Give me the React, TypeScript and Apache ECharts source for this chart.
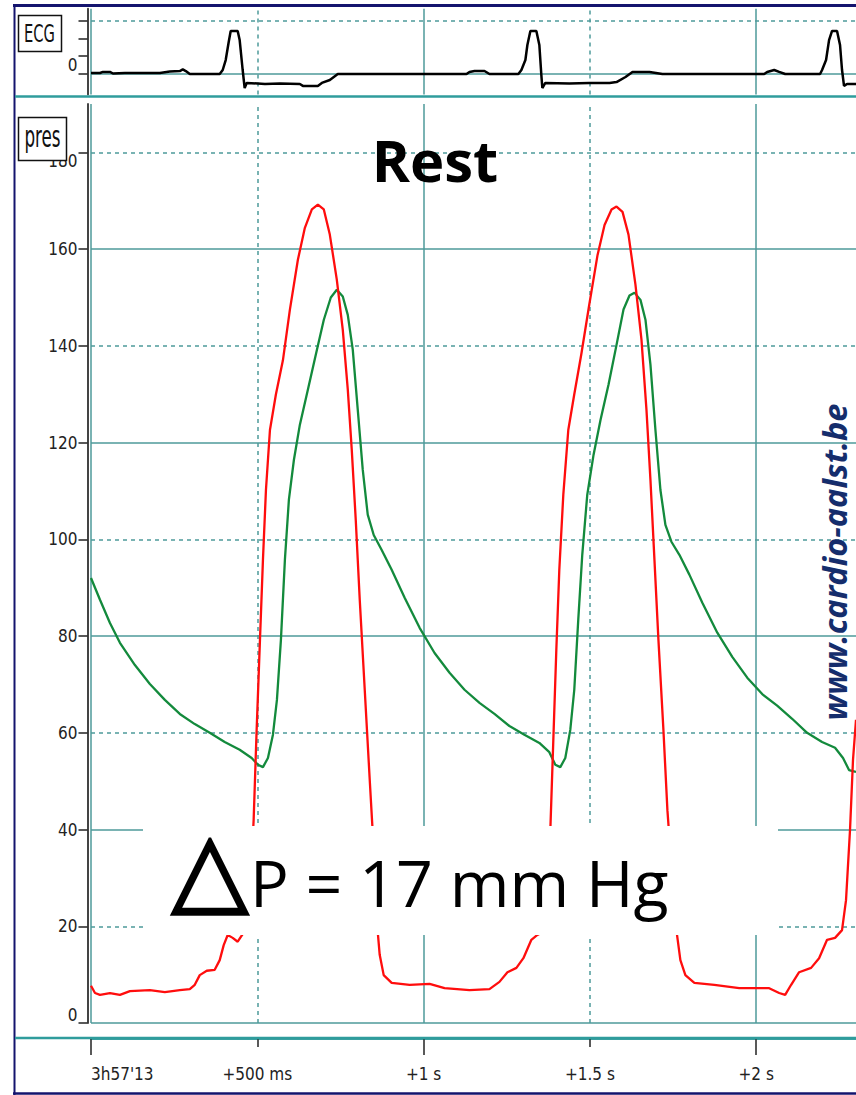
import React, { useEffect, useRef } from "react";
import * as echarts from "echarts";

// ---------- data ----------
// time in seconds from 3h57'13, ECG in arbitrary units, pressure in mm Hg
const ecgTime = [0, 0.027, 0.036, 0.057, 0.066, 0.102, 0.207, 0.237, 0.267, 0.276, 0.285, 0.297, 0.387, 0.396, 0.405, 0.414, 0.42, 0.441, 0.447, 0.456, 0.462, 0.468, 0.523, 0.568, 0.628, 0.637, 0.682, 0.694, 0.718, 0.742, 0.838, 1.048, 1.129, 1.138, 1.153, 1.183, 1.198, 1.285, 1.294, 1.306, 1.312, 1.321, 1.339, 1.348, 1.354, 1.357, 1.366, 1.438, 1.498, 1.559, 1.58, 1.607, 1.628, 1.679, 1.718, 2.024, 2.033, 2.054, 2.069, 2.087, 2.192, 2.198, 2.21, 2.219, 2.228, 2.243, 2.252, 2.258, 2.264, 2.273, 2.3];
const ecgValue = [0.03, 0.03, 0.09, 0.09, 0, 0.03, 0.03, 0.11, 0.14, 0.23, 0.14, -0.03, -0.03, 0.2, 0.77, 1.8, 2.43, 2.43, 1.91, 0.2, -0.83, -0.54, -0.6, -0.57, -0.6, -0.71, -0.71, -0.54, -0.37, -0.03, -0.03, -0.03, -0.03, 0.09, 0.14, 0.14, -0.03, -0.03, 0.2, 0.77, 1.63, 2.43, 2.43, 1.63, -0.09, -0.83, -0.54, -0.57, -0.54, -0.54, -0.49, -0.2, 0.09, 0.09, -0.03, -0.03, 0.09, 0.2, 0.09, -0.03, -0.03, 0.2, 0.77, 1.91, 2.43, 2.43, 1.63, 0.2, -0.71, -0.6, -0.6];

const lvTime = [0, 0.012, 0.027, 0.057, 0.087, 0.117, 0.177, 0.222, 0.267, 0.297, 0.312, 0.327, 0.348, 0.372, 0.387, 0.399, 0.411, 0.426, 0.441, 0.456, 0.468, 0.48, 0.489, 0.498, 0.508, 0.517, 0.526, 0.538, 0.556, 0.577, 0.598, 0.622, 0.643, 0.664, 0.682, 0.7, 0.718, 0.739, 0.757, 0.772, 0.784, 0.796, 0.808, 0.823, 0.838, 0.85, 0.859, 0.868, 0.88, 0.904, 0.958, 1.018, 1.063, 1.138, 1.198, 1.228, 1.252, 1.279, 1.3, 1.324, 1.342, 1.36, 1.372, 1.381, 1.39, 1.399, 1.408, 1.42, 1.435, 1.453, 1.474, 1.498, 1.523, 1.544, 1.565, 1.58, 1.598, 1.616, 1.637, 1.655, 1.67, 1.682, 1.694, 1.706, 1.721, 1.733, 1.748, 1.76, 1.772, 1.787, 1.814, 1.874, 1.949, 2.039, 2.069, 2.087, 2.105, 2.129, 2.165, 2.189, 2.213, 2.237, 2.258, 2.27, 2.282, 2.291, 2.3];
const lvPressure = [7.7, 6.2, 5.8, 6.2, 5.8, 6.6, 6.8, 6.4, 6.8, 7.0, 7.9, 9.9, 10.8, 11.0, 13.0, 16.1, 18.2, 17.6, 16.8, 18.4, 21.3, 29.6, 42, 60.6, 79.2, 95.8, 110.2, 122.6, 130, 137, 147.5, 157.8, 164.4, 168.2, 169.2, 168.2, 163, 153.7, 143.3, 131, 118.5, 104, 87.5, 68.9, 50.3, 35.8, 21.3, 14.1, 9.9, 8.3, 7.9, 8.1, 7.2, 6.8, 7.0, 8.5, 10.5, 11.4, 13.4, 17.2, 18.2, 18.8, 25.4, 39.9, 58.5, 77.1, 93.7, 109.2, 122.6, 130, 138.2, 148.5, 158.8, 165, 168.2, 168.8, 167.7, 163, 152.6, 141.3, 126.8, 112.3, 95.8, 79.2, 60.6, 44, 29.6, 19.2, 13, 9.9, 8.3, 7.9, 7.2, 7.2, 6.2, 5.8, 7.9, 10.5, 11.4, 13.4, 17.2, 17.6, 19.2, 25.4, 39.9, 54.4, 62.7];

const aoTime = [0, 0.027, 0.057, 0.087, 0.132, 0.177, 0.222, 0.267, 0.312, 0.357, 0.402, 0.447, 0.483, 0.502, 0.517, 0.532, 0.547, 0.559, 0.571, 0.583, 0.595, 0.61, 0.628, 0.652, 0.676, 0.7, 0.721, 0.739, 0.757, 0.772, 0.787, 0.802, 0.817, 0.832, 0.85, 0.874, 0.904, 0.943, 0.988, 1.033, 1.078, 1.123, 1.168, 1.213, 1.258, 1.303, 1.348, 1.378, 1.396, 1.411, 1.426, 1.441, 1.453, 1.465, 1.477, 1.492, 1.511, 1.532, 1.556, 1.58, 1.601, 1.619, 1.634, 1.652, 1.667, 1.682, 1.697, 1.712, 1.727, 1.745, 1.769, 1.799, 1.838, 1.883, 1.928, 1.973, 2.018, 2.063, 2.108, 2.153, 2.198, 2.237, 2.261, 2.279, 2.3];
const aoPressure = [92, 87.5, 82.7, 78.6, 74, 70.1, 66.8, 63.9, 61.8, 60, 58.1, 56.5, 54.8, 53.4, 52.9, 54.8, 59.6, 66.8, 79.2, 95.8, 108.2, 116.4, 123.7, 130.9, 138.2, 145.4, 150, 151.6, 150.2, 146.4, 139.2, 126.8, 114.4, 105.1, 100.9, 97.8, 93.7, 87.9, 81.7, 76.5, 72.4, 68.9, 66.2, 63.9, 61.4, 59.6, 57.9, 56, 53.4, 52.9, 54.8, 60.6, 68.9, 83.4, 96.8, 109.2, 117.5, 124.7, 132, 140.2, 147.5, 150.4, 151, 149.5, 145.4, 136.1, 122.6, 110.2, 103, 99.5, 96.8, 92.7, 86.9, 80.7, 75.7, 71.4, 68, 65.6, 62.9, 60, 58.1, 56.9, 54.8, 52.3, 51.9];

const timeTicks = [0, 0.5, 1, 1.5, 2];
const timeTickLabels = ["3h57'13", "+500 ms", "+1 s", "+1.5 s", "+2 s"];
const majorTimeTicks = [0, 1, 2];
const minorTimeTicks = [0.5, 1.5];
const pressureTicks = [0, 20, 40, 60, 80, 100, 120, 140, 160, 180];
const ecgTicks = [0, 1, 2, 3];
const ecgLabelTicks = [0];
const ecgGridValues = [0, 3];

const title = "Rest";
const deltaSymbol = "△";
const deltaText = "P = 17 mm Hg";
const watermark = "www.cardio-aalst.be";

// ---------- styles ----------
const TEAL = "#4e9a9a";
const TEAL_BRIGHT = "#2f9c9c";
const NAVY = "#14146e";
const NARROW = "'Liberation Sans Narrow', 'Arial Narrow', 'DejaVu Sans Condensed', sans-serif";

const zip = (xs: number[], ys: number[]) => {
  const n = Math.min(xs.length, ys.length);
  const out: number[][] = [];
  for (let i = 0; i < n; i++) out.push([xs[i], ys[i]]);
  return out;
};

const solid = { type: "solid", color: TEAL, width: 1.5 };
const dashed = { type: [4, 4], color: TEAL, width: 1.5 };

const verticalGrid = timeTicks.map((t) => ({
  xAxis: t,
  lineStyle: Number.isInteger(t) ? solid : dashed,
}));

const presGridLines = [
  ...pressureTicks.map((p) => ({ yAxis: p, lineStyle: p % 40 === 0 ? solid : dashed })),
  ...verticalGrid,
];
const ecgGridLines = [
  ...ecgGridValues.map((v) => ({ yAxis: v, lineStyle: v === 0 ? solid : dashed })),
  ...verticalGrid,
];

const markLineBase = {
  silent: true,
  symbol: ["none", "none"],
  label: { show: false },
  emphasis: { disabled: true },
  animation: false,
  z: 1,
};

const GRID_LEFT = 91;
const GRID_WIDTH = 766;
const tickStyle = { color: "#222", width: 1.5 };

function buildOption(): any {
  return {
    animation: false,
    backgroundColor: "#ffffff",
    grid: [
      { left: GRID_LEFT, top: 8.75, width: GRID_WIDTH, height: 85.75 },
      { left: GRID_LEFT, top: 104, width: GRID_WIDTH, height: 919 },
      { left: GRID_LEFT, top: 104, width: GRID_WIDTH, height: 919 },
    ],
    xAxis: [
      { gridIndex: 0, type: "value", min: 0, max: 2.3, show: false },
      {
        gridIndex: 1,
        type: "value",
        min: 0,
        max: 2.3,
        offset: 15,
        axisLine: { show: true, onZero: false, lineStyle: { color: TEAL_BRIGHT, width: 2.5 } },
        splitLine: { show: false },
        axisTick: {
          show: true,
          inside: false,
          length: 17,
          customValues: majorTimeTicks,
          lineStyle: tickStyle,
        },
        axisLabel: {
          show: true,
          customValues: timeTicks,
          margin: 27,
          fontSize: 17,
          fontFamily: NARROW,
          color: "#222",
          alignMinLabel: "left",
          formatter: (v: number) => {
            const i = timeTicks.findIndex((t) => Math.abs(t - v) < 1e-6);
            return i >= 0 ? timeTickLabels[i] : "";
          },
        },
      },
      {
        gridIndex: 2,
        type: "value",
        min: 0,
        max: 2.3,
        offset: 15,
        axisLine: { show: true, onZero: false, lineStyle: { color: TEAL_BRIGHT, width: 2.5 } },
        splitLine: { show: false },
        axisLabel: { show: false },
        axisTick: {
          show: true,
          inside: false,
          length: 9,
          customValues: minorTimeTicks,
          lineStyle: tickStyle,
        },
      },
    ],
    yAxis: [
      {
        gridIndex: 0,
        type: "value",
        min: -1.2,
        max: 3.7,
        offset: 3.5,
        splitLine: { show: false },
        axisLine: { show: true, onZero: false, lineStyle: { color: "#444", width: 2 } },
        axisTick: { show: true, length: 9, customValues: ecgTicks, lineStyle: tickStyle },
        axisLabel: {
          show: true,
          customValues: ecgLabelTicks,
          margin: 10,
          fontSize: 17,
          fontFamily: NARROW,
          color: "#222",
          verticalAlignMinLabel: "bottom",
          verticalAlignMaxLabel: "bottom",
          verticalAlign: "bottom",
        },
      },
      {
        gridIndex: 1,
        type: "value",
        min: 0,
        max: 190,
        interval: 20,
        offset: 3.5,
        splitLine: { show: false },
        axisLine: { show: true, onZero: false, lineStyle: { color: "#444", width: 2 } },
        axisTick: { show: true, length: 9, customValues: pressureTicks, lineStyle: tickStyle },
        axisLabel: {
          show: true,
          customValues: pressureTicks,
          margin: 10,
          fontSize: 17,
          fontFamily: NARROW,
          color: "#222",
          verticalAlignMinLabel: "bottom",
          verticalAlignMaxLabel: "top",
        },
      },
      { gridIndex: 2, type: "value", min: 0, max: 190, show: false },
    ],
    series: [
      {
        name: "ECG",
        type: "line",
        xAxisIndex: 0,
        yAxisIndex: 0,
        data: zip(ecgTime, ecgValue),
        showSymbol: false,
        symbol: "none",
        z: 3,
        lineStyle: { color: "#000", width: 2.5 },
        markLine: { ...markLineBase, data: ecgGridLines },
      },
      {
        name: "Aorta",
        type: "line",
        xAxisIndex: 1,
        yAxisIndex: 1,
        data: zip(aoTime, aoPressure),
        showSymbol: false,
        symbol: "none",
        z: 3,
        lineStyle: { color: "#138a3c", width: 2.3 },
        markLine: { ...markLineBase, data: presGridLines },
      },
      {
        name: "LV",
        type: "line",
        xAxisIndex: 1,
        yAxisIndex: 1,
        data: zip(lvTime, lvPressure),
        showSymbol: false,
        symbol: "none",
        z: 4,
        lineStyle: { color: "#ff0d0d", width: 2.3 },
      },
    ],
    graphic: [
      // frame
      { type: "line", z: 50, shape: { x1: 14.5, y1: 4, x2: 14.5, y2: 1095 }, style: { stroke: NAVY, lineWidth: 2 } },
      { type: "line", z: 50, shape: { x1: 13, y1: 5.5, x2: 856, y2: 5.5 }, style: { stroke: NAVY, lineWidth: 3 } },
      { type: "line", z: 50, shape: { x1: 13, y1: 1093.5, x2: 856, y2: 1093.5 }, style: { stroke: NAVY, lineWidth: 2.5 } },
      // panel separators
      { type: "line", z: 50, shape: { x1: 15, y1: 96.5, x2: 856, y2: 96.5 }, style: { stroke: TEAL_BRIGHT, lineWidth: 2.5 } },
      { type: "line", z: 50, shape: { x1: 15, y1: 1038, x2: 856, y2: 1038 }, style: { stroke: TEAL_BRIGHT, lineWidth: 2.5 } },
      // channel labels
      { type: "rect", z: 50, shape: { x: 18.5, y: 15.5, width: 43, height: 36 }, style: { fill: "#fff", stroke: "#111", lineWidth: 1.5 } },
      { type: "text", z: 51, x: 39.5, y: 34, scaleX: 0.68, style: { text: "ECG", x: 0, y: 0, textAlign: "center", textVerticalAlign: "middle", fontSize: 24, fontFamily: NARROW, fill: "#111" } },
      { type: "rect", z: 50, shape: { x: 18.5, y: 117.5, width: 48, height: 43 }, style: { fill: "#fff", stroke: "#111", lineWidth: 1.5 } },
      { type: "text", z: 51, x: 42.5, y: 137, scaleX: 0.62, style: { text: "pres", x: 0, y: 0, textAlign: "center", textVerticalAlign: "middle", fontSize: 30, fontFamily: NARROW, fill: "#111" } },
      // title
      { type: "text", z: 60, style: { text: title, x: 435, y: 159, textAlign: "center", textVerticalAlign: "middle", fontSize: 58, fontWeight: "bold", fontFamily: "'Open Sans', sans-serif", fill: "#000" } },
      // delta P box
      { type: "rect", z: 60, shape: { x: 143, y: 826, width: 635, height: 109 }, style: { fill: "#fff" } },
      { type: "text", z: 61, style: { text: deltaSymbol, x: 210, y: 867, textAlign: "center", textVerticalAlign: "middle", fontSize: 100, fontWeight: "bold", fontFamily: "'DejaVu Sans', sans-serif", fill: "#000", stroke: "#000", lineWidth: 2.5 } },
      { type: "text", z: 61, style: { text: deltaText, x: 250, y: 882, textAlign: "left", textVerticalAlign: "middle", fontSize: 64.5, fontFamily: "'Open Sans', sans-serif", fill: "#000" } },
      // watermark
      { type: "text", z: 60, x: 834, y: 562, rotation: Math.PI / 2, style: { text: watermark, x: 0, y: 0, textAlign: "center", textVerticalAlign: "middle", fontSize: 32.5, fontWeight: "bold", fontStyle: "italic", fontFamily: "'Open Sans', sans-serif", fill: "#152d6c" } },
    ],
  };
}

export default function App() {
  const ref = useRef<HTMLDivElement>(null);
  useEffect(() => {
    if (!ref.current) return;
    const chart = echarts.init(ref.current, null, { renderer: "svg" });
    chart.setOption(buildOption());
    return () => chart.dispose();
  }, []);
  return (
    <div
      ref={ref}
      style={{ position: "absolute", left: 0, top: 0, width: 856, height: 1095, background: "#fff" }}
    />
  );
}
